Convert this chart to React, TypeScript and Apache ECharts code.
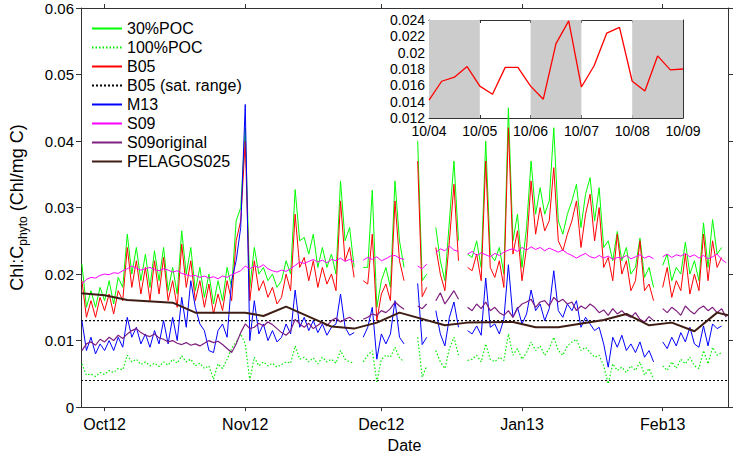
import React, { useEffect, useRef } from "react";
import * as echarts from "echarts";

const FONT = "'Liberation Sans', Arial, Helvetica, sans-serif";

// x axis: days since 1 Oct 2012
const X_MIN = -5.2;
const X_MAX = 137.4;
const FIRST_DAY = -5;
const tickDays = [0, 31, 61, 92, 123];
const tickLabels = ["Oct12", "Nov12", "Dec12", "Jan13", "Feb13"];

// daily values, day -5 .. 137 (null = no data)
const poc30 = [
  0.0215, 0.015, 0.0175, 0.015, 0.018,
  0.016, 0.019, 0.0155, 0.0195, 0.018, 0.026, 0.02, 0.024, 0.019, 0.023,
  0.018, 0.0235, 0.019, 0.024, 0.0175, 0.021, 0.017, 0.0265, 0.02, 0.024,
  0.0175, 0.021, 0.0165, 0.02, 0.0155, 0.019, 0.016, 0.021, 0.018, 0.028,
  0.03, 0.042, 0.018, 0.024, 0.02, 0.021, 0.019, 0.02, 0.018, 0.019,
  0.022, 0.02, 0.0327, 0.025, 0.0255, 0.023, 0.026, 0.021, 0.024, 0.021,
  0.023, 0.02, 0.034, 0.025, 0.027, 0.021, null, 0.021, 0.021, 0.0326,
  0.015, 0.019, 0.021, 0.018, 0.034, 0.025, 0.021, null, null, 0.04,
  0.019, 0.02, null, 0.027, 0.022, 0.019, 0.028, 0.037, 0.025, null,
  0.023, 0.0225, 0.025, 0.021, 0.04, 0.023, 0.022, 0.024, 0.02, 0.045,
  0.025, 0.029, 0.021, 0.027, 0.037, 0.029, 0.033, 0.029, 0.031, 0.042,
  0.028, 0.026, 0.029, 0.031, 0.0335, 0.027, 0.032, 0.0345, 0.028, 0.033,
  0.024, 0.025, 0.022, 0.0264, 0.022, 0.024, 0.02, 0.021, 0.0254, 0.0195,
  0.021, 0.018, null, 0.0213, 0.023, 0.019, 0.021, 0.02, 0.0248, 0.02,
  0.022, 0.019, 0.0277, 0.021, 0.0282, 0.023, 0.024, null,
];

const poc100 = [
  0.0065, 0.0048, 0.005, 0.0046, 0.0052,
  0.0049, 0.0055, 0.0052, 0.0058, 0.0056, 0.0078, 0.0068, 0.0072, 0.0064, 0.0068,
  0.0062, 0.0066, 0.0061, 0.0068, 0.0063, 0.0072, 0.0066, 0.0077, 0.0068, 0.0072,
  0.0062, 0.0066, 0.0058, 0.0062, 0.0042, 0.0065, 0.0058, 0.0072, 0.0088, 0.0098,
  0.011, 0.0095, 0.004, 0.0075, 0.0062, 0.0068, 0.0062, 0.0066, 0.006, 0.0064,
  0.0068, 0.0066, 0.0092, 0.0072, 0.0075, 0.0068, 0.0074, 0.0065, 0.0075, 0.0068,
  0.0072, 0.0066, 0.0085, 0.0072, 0.0068, 0.0066, null, 0.0068, 0.0078, 0.0085,
  0.0038, 0.0072, 0.0078, 0.0075, 0.009, 0.0074, 0.0068, null, null, 0.0105,
  0.0045, 0.0062, null, 0.0085, 0.0068, 0.0058, 0.0088, 0.0105, 0.0078, null,
  0.007, 0.0072, 0.0078, 0.0068, 0.0095, 0.0072, 0.0068, 0.0075, 0.007, 0.011,
  0.0078, 0.0088, 0.0072, 0.0082, 0.0098, 0.0085, 0.0092, 0.0078, 0.0088, 0.0105,
  0.0085, 0.0078, 0.0092, 0.0098, 0.0102, 0.0085, 0.009, 0.0082, 0.0075, 0.0078,
  0.0062, 0.0035, 0.0065, 0.0055, 0.006, 0.0052, 0.0062, 0.0055, 0.0068, 0.0048,
  0.0058, 0.0042, null, 0.0062, 0.0055, 0.0068, 0.0058, 0.0072, 0.0065, 0.0075,
  0.0062, 0.0058, 0.0085, 0.0065, 0.009, 0.0078, 0.0082, null,
];

const b05 = [
  0.019, 0.0135, 0.016, 0.0135, 0.0165,
  0.0145, 0.017, 0.014, 0.0175, 0.016, 0.024, 0.018, 0.022, 0.017, 0.021,
  0.016, 0.022, 0.017, 0.0225, 0.016, 0.019, 0.015, 0.0245, 0.018, 0.022,
  0.016, 0.019, 0.015, 0.0185, 0.014, 0.017, 0.0145, 0.019, 0.016, 0.025,
  0.028, 0.04, 0.016, 0.022, 0.0175, 0.019, 0.0165, 0.018, 0.0155, 0.0165,
  0.02, 0.0175, 0.029, 0.021, 0.0225, 0.019, 0.022, 0.018, 0.021, 0.0185,
  0.02, 0.0175, 0.031, 0.022, 0.024, 0.0195, null, 0.019, 0.0185, 0.026,
  0.013, 0.017, 0.0185, 0.016, 0.031, 0.022, 0.019, null, null, 0.037,
  0.0166, 0.018, null, 0.024, 0.02, 0.0175, 0.025, 0.0335, 0.022, null,
  0.021, 0.0205, 0.023, 0.019, 0.037, 0.021, 0.0195, 0.022, 0.018, 0.042,
  0.023, 0.0265, 0.019, 0.024, 0.034, 0.026, 0.03, 0.0265, 0.028, 0.036,
  0.025, 0.0235, 0.026, 0.028, 0.031, 0.024, 0.029, 0.032, 0.025, 0.03,
  0.021, 0.0225, 0.019, 0.026, 0.02, 0.022, 0.0175, 0.019, 0.025, 0.0175,
  0.0185, 0.016, null, 0.018, 0.021, 0.0165, 0.019, 0.0175, 0.023, 0.017,
  0.02, 0.0175, 0.026, 0.019, 0.025, 0.021, 0.0225, null,
];

const satRange = [0.013, 0.004];

const m13 = [
  0.013, 0.0085, 0.0105, 0.008, 0.0095,
  0.0085, 0.01, 0.0085, 0.0105, 0.009, 0.0135, 0.0105, 0.012, 0.0095, 0.011,
  0.009, 0.0115, 0.0095, 0.013, 0.0095, 0.0135, 0.01, 0.0165, 0.012, 0.019,
  0.015, 0.0125, 0.0115, 0.0085, 0.0082, 0.0115, 0.0125, 0.0105, 0.019, 0.022,
  0.027, 0.0455, 0.01, 0.016, 0.011, 0.0125, 0.01, 0.0115, 0.0098, 0.0105,
  0.0125, 0.011, 0.0176, 0.012, 0.0135, 0.0115, 0.013, 0.0112, 0.0125, 0.0108,
  0.012, 0.0125, 0.017, 0.012, 0.0108, 0.0112, null, 0.0105, 0.012, 0.015,
  0.0072, 0.011, 0.0095, 0.011, 0.016, 0.0105, 0.0095, null, null, 0.0186,
  0.0094, 0.0105, null, 0.0145, 0.011, 0.0092, 0.0135, 0.0158, 0.012, null,
  0.0115, 0.011, 0.0122, 0.0108, 0.0194, 0.012, 0.0125, 0.011, 0.0132, 0.0214,
  0.0135, 0.015, 0.0125, 0.014, 0.0176, 0.0145, 0.0155, 0.013, 0.0148, 0.0205,
  0.0145, 0.0135, 0.0155, 0.0145, 0.016, 0.012, 0.0135, 0.0125, 0.0115, 0.012,
  0.0095, 0.006, 0.0105, 0.009, 0.0108, 0.0085, 0.0095, 0.0082, 0.0098, 0.0075,
  0.0085, 0.0068, null, 0.0098, 0.0088, 0.0105, 0.0092, 0.0112, 0.0098, 0.012,
  0.0095, 0.009, 0.0122, 0.0092, 0.0125, 0.0118, 0.0122, null,
];

const s09 = [
  0.0185, 0.0192, 0.0195, 0.0194, 0.0198,
  0.02, 0.0199, 0.0202, 0.0201, 0.0205, 0.0208, 0.0212, 0.0209, 0.0206, 0.0208,
  0.021, 0.0207, 0.0205, 0.0208, 0.0206, 0.0203, 0.0205, 0.0201, 0.0199, 0.0197,
  0.0198, 0.0195, 0.0197, 0.0194, 0.0196, 0.0193, 0.0197, 0.0195, 0.0199, 0.0202,
  0.0205, 0.0212, 0.0208, 0.0212, 0.021, 0.0214, 0.0208, 0.0205, 0.0203, 0.0206,
  0.0204, 0.0208, 0.0213, 0.0218, 0.0216, 0.0219, 0.0222, 0.0218, 0.0221, 0.0217,
  0.0222, 0.022, 0.0224, 0.0219, 0.0222, 0.0218, null, 0.0221, 0.0225, 0.0222,
  0.0226, 0.022, 0.0223, 0.0227, 0.0228, 0.0224, 0.0222, null, null, 0.0212,
  0.0208, 0.0215, null, 0.0232, 0.0238, 0.0235, 0.0242, 0.0236, 0.0234, null,
  0.023, 0.0234, 0.0228, 0.0232, 0.0229, 0.0226, 0.0231, 0.0228, 0.0233, 0.0236,
  0.0238, 0.0234, 0.024, 0.0236, 0.0241, 0.0237, 0.024, 0.0235, 0.0239, 0.0236,
  0.0233, 0.0236, 0.0231, 0.0228, 0.0224, 0.0228, 0.0231, 0.0226, 0.0224, 0.0228,
  0.0224, 0.0227, 0.0222, 0.0225, 0.0224, 0.0228, 0.0223, 0.0226, 0.0229, 0.0224,
  0.0227, 0.0223, null, 0.0226, 0.023, 0.0225, 0.0229, 0.0227, 0.0231, 0.0226,
  0.0229, 0.0224, 0.0228, 0.0223, 0.0226, 0.023, 0.0222, 0.0217,
];

const s09original = [
  0.0085, 0.0095, 0.0098, 0.0093, 0.0102,
  0.0098, 0.0105, 0.01, 0.0108, 0.0103, 0.011, 0.0115, 0.0118, 0.0112, 0.0108,
  0.0106, 0.011, 0.0104, 0.0102, 0.0098, 0.01, 0.0096, 0.0094, 0.0097, 0.0093,
  0.0095, 0.0092, 0.0096, 0.01, 0.0097, 0.0099, 0.0094, 0.0088, 0.0082, 0.0095,
  0.0112, 0.0125, 0.0118, 0.012, 0.0126, 0.0122, 0.0128, 0.0124, 0.0118, 0.0112,
  0.0108, 0.0115, 0.0132, 0.0125, 0.012, 0.0126, 0.0118, 0.0123, 0.0128, 0.0122,
  0.013, 0.0134, 0.0128, 0.0132, 0.0135, 0.013, null, 0.0132, 0.0135, 0.014,
  0.0138, 0.0145, 0.0142, 0.0148, 0.0158, 0.0152, 0.0147, null, null, 0.0152,
  0.0148, 0.0155, null, 0.016, 0.0172, 0.0155, 0.0165, 0.0175, 0.0162, null,
  0.015, 0.0145, 0.0155, 0.0148, 0.0158, 0.0145, 0.015, 0.0142, 0.0138, 0.0145,
  0.0135, 0.0148, 0.0155, 0.0158, 0.0162, 0.015, 0.0158, 0.016, 0.0152, 0.0165,
  0.0158, 0.0162, 0.0155, 0.0158, 0.0145, 0.0152, 0.0148, 0.0155, 0.015, 0.0142,
  0.0146, 0.0138, 0.0148, 0.014, 0.0145, 0.0138, 0.0135, 0.0142, 0.0132, 0.0128,
  0.0136, 0.013, null, 0.0148, 0.0142, 0.015, 0.0145, 0.0138, 0.0152, 0.0145,
  0.014, 0.0148, 0.0152, 0.0145, 0.015, 0.0142, 0.0148, 0.0135,
];

const pelagosDays = [-5.2, 0, 5, 15, 20, 31, 35, 40, 50, 55, 60, 65, 75, 80, 90, 95, 100, 110, 115, 120, 125, 130, 135, 137.4];
const pelagosVals = [0.0171, 0.0168, 0.0161, 0.0157, 0.0142, 0.0142, 0.0137, 0.0151, 0.0121, 0.0118, 0.0127, 0.0142, 0.0123, 0.0127, 0.0128, 0.012, 0.012, 0.0131, 0.014, 0.0123, 0.0127, 0.0114, 0.0142, 0.0138];

// inset: B05 at 6-hour steps, 4 Oct - 9 Oct
const INSET_STEP = 0.25;
const insetLabels = ["10/04", "10/05", "10/06", "10/07", "10/08", "10/09"];
const insetVals = [0.0142, 0.0165, 0.017, 0.0183, 0.0159, 0.0149, 0.0182, 0.0182, 0.0159, 0.0143, 0.0211, 0.0239, 0.0158, 0.0184, 0.0224, 0.0231, 0.0165, 0.0153, 0.0196, 0.0179, 0.018];
const nightBands = [[0, 1], [2, 3], [4, 5]];

const AXIS_COLOR = "#333";

function toXY(vals: (number | null)[]) {
  return vals.map((v, i) => [FIRST_DAY + i, v === null ? "-" : v]);
}

function lineSeries(name: string, data: any[], color: string, width: number, type: any = "solid", z = 2) {
  return {
    name,
    type: "line",
    xAxisIndex: 0,
    yAxisIndex: 0,
    data,
    symbol: "none",
    showSymbol: false,
    connectNulls: false,
    z,
    lineStyle: { color, width, type },
    itemStyle: { color },
    emphasis: { disabled: true },
  };
}

export default function App() {
  const ref = useRef<HTMLDivElement>(null);

  useEffect(() => {
    document.body.style.margin = "0";
    if (!ref.current) return;
    const chart = echarts.init(ref.current, undefined, { renderer: "svg" });

    const axisLine = { show: true, onZero: false, lineStyle: { color: AXIS_COLOR, width: 1 } };
    const outTick = { show: true, inside: false, length: 4, lineStyle: { color: AXIS_COLOR, width: 1 } };
    const inTick = { show: true, inside: true, length: 3, lineStyle: { color: AXIS_COLOR, width: 1 } };

    const option: any = {
      animation: false,
      textStyle: { fontFamily: FONT },
      grid: [
        { left: 73, top: 8, right: 9, bottom: 44 },
        { left: 429, top: 20, width: 254, height: 98 },
      ],
      legend: {
        orient: "vertical",
        left: 86,
        top: 14,
        itemWidth: 30,
        itemHeight: 10,
        itemGap: 0,
        itemStyle: { opacity: 0 },
        textStyle: { fontSize: 16, color: "#000", lineHeight: 19, fontFamily: FONT },
        data: ["30%POC", "100%POC", "B05", "B05 (sat. range)", "M13", "S09", "S09original", "PELAGOS025"],
        selectedMode: false,
      },
      xAxis: [
        {
          type: "value",
          gridIndex: 0,
          min: X_MIN,
          max: X_MAX,
          position: "bottom",
          axisLine,
          axisTick: { ...outTick, customValues: tickDays },
          axisLabel: {
            customValues: tickDays,
            formatter: (v: number) => {
              const i = tickDays.indexOf(Math.round(v));
              return i >= 0 ? tickLabels[i] : "";
            },
            fontSize: 16,
            color: "#000",
            margin: 9,
            fontFamily: FONT,
          },
          splitLine: { show: false },
          name: "Date",
          nameLocation: "middle",
          nameGap: 24,
          nameTextStyle: { fontSize: 16, color: "#000", fontFamily: FONT },
        },
        {
          type: "value",
          gridIndex: 0,
          min: X_MIN,
          max: X_MAX,
          position: "top",
          axisLine,
          axisTick: { ...outTick, customValues: tickDays },
          axisLabel: { show: false },
          splitLine: { show: false },
        },
        {
          type: "value",
          gridIndex: 1,
          min: 0,
          max: 5,
          interval: 1,
          position: "bottom",
          axisLine,
          axisTick: inTick,
          axisLabel: {
            formatter: (v: number) => insetLabels[Math.round(v)] ?? "",
            fontSize: 14,
            color: "#000",
            margin: 6,
            fontFamily: FONT,
          },
          splitLine: { show: false },
        },
        {
          type: "value",
          gridIndex: 1,
          min: 0,
          max: 5,
          interval: 1,
          position: "top",
          axisLine,
          axisTick: inTick,
          axisLabel: { show: false },
          splitLine: { show: false },
        },
      ],
      yAxis: [
        {
          type: "value",
          gridIndex: 0,
          min: 0,
          max: 0.06,
          interval: 0.01,
          position: "left",
          axisLine,
          axisTick: { ...outTick, length: 5 },
          axisLabel: { fontSize: 15, color: "#000", margin: 7, fontFamily: FONT },
          splitLine: { show: false },
          name: "{a|Chl:C}{b|phyto}{a| (Chl/mg C)}",
          nameLocation: "middle",
          nameGap: 52,
          nameTextStyle: {
            color: "#000",
            rich: {
              a: { fontSize: 18, fontFamily: FONT, color: "#000", lineHeight: 24 },
              b: { fontSize: 12, fontFamily: FONT, color: "#000", lineHeight: 13, verticalAlign: "bottom" },
            },
          },
        },
        {
          type: "value",
          gridIndex: 0,
          min: 0,
          max: 0.06,
          interval: 0.01,
          position: "right",
          axisLine,
          axisTick: { ...outTick, length: 5 },
          axisLabel: { show: false },
          splitLine: { show: false },
        },
        {
          type: "value",
          gridIndex: 1,
          min: 0.012,
          max: 0.024,
          interval: 0.002,
          position: "left",
          axisLine,
          axisTick: inTick,
          axisLabel: { fontSize: 14, color: "#000", margin: 4, fontFamily: FONT },
          splitLine: { show: false },
        },
        {
          type: "value",
          gridIndex: 1,
          min: 0.012,
          max: 0.024,
          interval: 0.002,
          position: "right",
          axisLine,
          axisTick: inTick,
          axisLabel: { show: false },
          splitLine: { show: false },
        },
      ],
      series: [
        lineSeries("30%POC", toXY(poc30), "#00ff00", 1),
        lineSeries("100%POC", toXY(poc100), "#00ee00", 1.2, [1.5, 2]),
        lineSeries("B05", toXY(b05), "#ff0000", 1),
        ...satRange.map((v) =>
          lineSeries("B05 (sat. range)", [[X_MIN, v], [X_MAX, v]], "#000000", 1.2, [2, 2])
        ),
        lineSeries("M13", toXY(m13), "#0000ff", 1),
        lineSeries("S09", toXY(s09), "#ff00ff", 1),
        lineSeries("S09original", toXY(s09original), "#7f1f7f", 1.2),
        lineSeries(
          "PELAGOS025",
          pelagosDays.map((d, i) => [d, pelagosVals[i]]),
          "#3f1d14",
          2
        ),
        {
          name: "inset",
          type: "line",
          xAxisIndex: 2,
          yAxisIndex: 2,
          data: insetVals.map((v, i) => [i * INSET_STEP, v]),
          symbol: "none",
          showSymbol: false,
          lineStyle: { color: "#ff0000", width: 1.3 },
          itemStyle: { color: "#ff0000" },
          emphasis: { disabled: true },
          z: 5,
          markArea: {
            silent: true,
            itemStyle: { color: "#cccccc" },
            data: nightBands.map(([a, b]) => [{ xAxis: a }, { xAxis: b }]),
          },
        },
      ],
    };

    chart.setOption(option);
    return () => chart.dispose();
  }, []);

  return (
    <div
      ref={ref}
      style={{ width: 737, height: 458, position: "absolute", left: 0, top: 0, background: "#fff" }}
    />
  );
}
